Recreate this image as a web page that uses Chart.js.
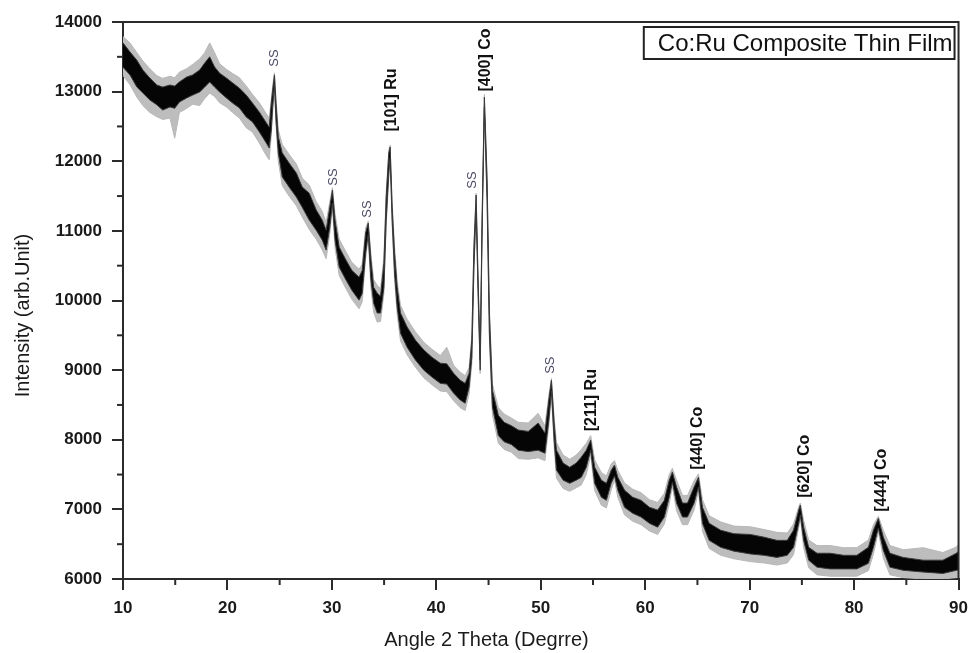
<!DOCTYPE html>
<html>
<head>
<meta charset="utf-8">
<script src="https://cdn.jsdelivr.net/npm/chart.js@4.4.1/dist/chart.umd.min.js"></script>
<style>
  html, body { margin: 0; padding: 0; background: #ffffff; }
  #wrap { width: 976px; height: 653px; position: relative; }
</style>
</head>
<body>
<div id="wrap"><canvas id="c" width="976" height="653"></canvas></div>
<script>
// ---- Data ----
const angles = [10.0,10.67,11.33,11.9,12.57,13.24,13.8,14.5,14.95,15.4,16.1,16.67,17.34,17.82,18.3,18.77,19.25,19.9,20.5,21.15,21.8,22.4,23.06,23.73,24.0,24.2,24.33,24.5,24.65,24.87,25.25,25.9,26.6,27.16,27.83,28.5,29.07,29.45,29.8,30.05,30.3,30.7,31.35,31.9,32.6,32.9,33.23,33.48,33.74,34.0,34.34,34.66,34.98,35.2,35.45,35.58,35.77,36.0,36.25,36.57,37.2,38.0,38.8,39.58,40.38,41.0,41.65,42.29,42.76,43.14,43.4,43.6,43.81,44.0,44.2,44.38,44.6,44.86,45.08,45.37,45.94,46.5,47.2,47.85,48.8,49.75,50.4,50.77,51.02,51.28,51.5,52.14,52.77,53.4,53.88,54.36,54.78,55.16,55.8,56.28,56.74,57.06,57.38,58.02,58.8,59.6,60.4,61.19,61.83,62.3,62.6,63.0,63.57,64.05,64.68,65.1,65.48,66.12,67.23,68.5,70.06,71.4,72.6,73.6,74.2,74.7,74.85,75.17,75.65,76.45,77.7,79.0,80.26,81.37,81.85,82.32,82.8,83.43,84.7,86.6,88.5,89.8,90.0];

const intensityHigh = [13700,13570,13450,13310,13195,13095,13065,13095,13080,13140,13210,13240,13310,13410,13500,13355,13265,13195,13125,13050,12950,12835,12705,12550,12490,12835,13020,13240,12835,12350,12120,11975,11830,11630,11540,11300,11155,11010,11340,11585,11155,10765,10580,10435,10335,10430,10970,11110,10580,10190,10105,10060,10535,11485,12120,12205,11340,10680,10190,9820,9620,9430,9290,9185,9100,9090,8955,8855,8810,8955,9430,10765,11515,10290,9145,11155,12920,11730,9820,8710,8350,8250,8200,8140,8120,8240,8095,8570,8855,8240,7850,7665,7605,7665,7750,7850,7995,7605,7420,7375,7560,7635,7460,7275,7175,7130,7030,6990,7130,7420,7535,7320,7090,7090,7320,7460,7030,6800,6700,6650,6640,6600,6555,6555,6700,6990,7060,6745,6455,6370,6370,6340,6340,6455,6700,6870,6600,6370,6310,6270,6270,6370,6400];

const intensityLow = [13350,13240,13065,12980,12880,12810,12735,12780,12760,12850,12910,12950,12995,13065,13140,13065,12995,12910,12835,12765,12635,12565,12420,12260,12190,12450,12780,13100,12590,12120,11775,11630,11485,11340,11155,11010,10870,10725,11055,11400,10870,10480,10295,10150,10005,10100,10680,10950,10295,9960,9820,9820,10190,11155,11830,12050,11155,10395,9905,9530,9330,9145,9000,8900,8810,8800,8670,8570,8525,8755,9185,10480,11350,10105,9000,10970,12780,11440,9530,8470,8060,7970,7930,7850,7830,7850,7807,8280,8700,7995,7565,7420,7375,7420,7460,7605,7850,7375,7175,7130,7375,7480,7275,7030,6945,6890,6800,6745,6890,7175,7390,7090,6890,6890,7090,7320,6800,6555,6455,6400,6360,6340,6310,6340,6455,6800,6920,6555,6270,6170,6145,6145,6145,6225,6455,6730,6410,6170,6125,6100,6080,6125,6130];

const fuzzHigh = [13790,13700,13560,13440,13330,13230,13190,13220,13200,13280,13330,13390,13470,13560,13700,13560,13400,13320,13260,13200,13080,12960,12840,12680,12620,12900,13080,13270,12900,12450,12240,12100,11960,11760,11660,11420,11280,11120,11420,11620,11250,10880,10700,10550,10450,10520,11040,11140,10670,10300,10220,10170,10620,11560,12160,12230,11420,10770,10290,9930,9730,9550,9400,9300,9210,9330,9070,8970,8920,9040,9500,10820,11540,10350,9200,11210,12960,11800,9890,8800,8460,8370,8310,8250,8240,8380,8200,8640,8880,8320,7960,7780,7720,7780,7860,7950,8060,7710,7530,7480,7650,7700,7560,7380,7290,7240,7140,7100,7230,7500,7590,7420,7200,7200,7410,7510,7140,6910,6820,6760,6750,6710,6670,6660,6790,7040,7090,6840,6560,6480,6480,6450,6450,6560,6780,6900,6700,6480,6420,6450,6380,6460,6500];

const fuzzLow = [13230,13100,12920,12800,12700,12640,12600,12620,12330,12700,12760,12820,12800,12900,12980,12930,12840,12780,12700,12620,12480,12420,12260,12080,12020,12380,12700,13050,12520,12000,11650,11500,11360,11200,11020,10880,10730,10600,10960,11340,10760,10360,10170,10020,9880,9980,10600,10900,10180,9830,9690,9700,10100,11080,11760,12000,11080,10300,9800,9420,9220,9040,8890,8790,8700,8690,8560,8460,8420,8660,9100,10420,11300,10040,8950,10920,12740,11380,9460,8360,7950,7860,7820,7730,7720,7740,7700,8200,8660,7900,7450,7300,7260,7310,7350,7500,7780,7270,7060,7020,7280,7420,7170,6920,6830,6780,6690,6640,6790,7080,7330,6980,6780,6780,6990,7260,6690,6440,6340,6290,6250,6230,6200,6230,6350,6740,6880,6450,6160,6060,6040,6040,6040,6120,6360,6680,6300,6060,6020,6000,6000,6020,6030];

// Peak annotations
const ssAngles      = [24.49, 30.11, 33.45, 43.46, 50.9];
const ssIntensity   = [13483, 11773, 11313, 11730, 9071];
const ssText        = ["SS", "SS", "SS", "SS", "SS"];
const peakAngles    = [35.74, 44.7, 54.9, 65.0, 75.3, 82.64];
const peakIntensity = [12879, 13454, 8568, 8022, 7620, 7419];
const peakText      = ["[101] Ru", "[400] Co", "[211] Ru", "[440] Co", "[620] Co", "[444] Co"];

const xTicks = [10, 20, 30, 40, 50, 60, 70, 80, 90];
const yTicks = [6000, 7000, 8000, 9000, 10000, 11000, 12000, 13000, 14000];

const legendText = "Co:Ru Composite Thin Film";
const xTitle = "Angle 2 Theta (Degrre)";
const yTitle = "Intensity (arb.Unit)";

// ---- Build chart ----
const FONT = "'Liberation Sans', Arial, Helvetica, sans-serif";
const AX = '#2b2b2b';
function pts(arr) { return angles.map((a, i) => ({ x: a, y: arr[i] })); }

const overlay = {
  id: 'overlay',
  afterDraw(chart) {
    const ctx = chart.ctx, ca = chart.chartArea;
    const xs = chart.scales.x, ys = chart.scales.y;
    ctx.save();
    // frame top & right
    ctx.strokeStyle = AX; ctx.lineWidth = 2;
    ctx.beginPath();
    ctx.moveTo(ca.left, ca.top); ctx.lineTo(ca.right, ca.top); ctx.lineTo(ca.right, ca.bottom);
    ctx.stroke();
    // minor ticks
    ctx.lineWidth = 2;
    for (let i = 0; i < xTicks.length - 1; i++) {
      const px = xs.getPixelForValue((xTicks[i] + xTicks[i + 1]) / 2);
      ctx.beginPath(); ctx.moveTo(px, ca.bottom); ctx.lineTo(px, ca.bottom + 6); ctx.stroke();
    }
    for (let i = 0; i < yTicks.length - 1; i++) {
      const py = ys.getPixelForValue((yTicks[i] + yTicks[i + 1]) / 2);
      ctx.beginPath(); ctx.moveTo(ca.left, py); ctx.lineTo(ca.left - 6, py); ctx.stroke();
    }
    // SS labels
    ctx.fillStyle = '#4a4a66';
    ctx.font = '13px ' + FONT;
    ctx.textAlign = 'center'; ctx.textBaseline = 'middle';
    ssAngles.forEach((a, i) => {
      ctx.save();
      ctx.translate(xs.getPixelForValue(a), ys.getPixelForValue(ssIntensity[i]));
      ctx.rotate(-Math.PI / 2);
      ctx.fillText(ssText[i], 0, 0);
      ctx.restore();
    });
    // peak labels
    ctx.fillStyle = '#111';
    ctx.font = 'bold 16px ' + FONT;
    peakAngles.forEach((a, i) => {
      ctx.save();
      ctx.translate(xs.getPixelForValue(a), ys.getPixelForValue(peakIntensity[i]));
      ctx.rotate(-Math.PI / 2);
      ctx.fillText(peakText[i], 0, 0);
      ctx.restore();
    });
    // legend box
    ctx.font = '24px ' + FONT;
    const tw = ctx.measureText(legendText).width;
    const bx1 = ca.right - 4, bx0 = bx1 - tw - 16, by0 = ca.top + 5, bh = 32;
    ctx.fillStyle = '#fff';
    ctx.fillRect(bx0, by0, bx1 - bx0, bh);
    ctx.strokeStyle = '#222'; ctx.lineWidth = 2;
    ctx.strokeRect(bx0, by0, bx1 - bx0, bh);
    ctx.fillStyle = '#111';
    ctx.textAlign = 'left'; ctx.textBaseline = 'middle';
    ctx.fillText(legendText, bx0 + 14, by0 + bh / 2 + 1);
    // axis titles
    ctx.font = '20px ' + FONT;
    ctx.textAlign = 'center'; ctx.textBaseline = 'middle';
    ctx.fillStyle = '#1a1a1a';
    ctx.fillText(xTitle, ca.left + (ca.right - ca.left) * 0.435, ca.bottom + 61);
    ctx.save();
    ctx.translate(ca.left - 100, (ca.top + ca.bottom) / 2 + 15);
    ctx.rotate(-Math.PI / 2);
    ctx.fillText(yTitle, 0, 0);
    ctx.restore();
    ctx.restore();
  }
};

new Chart(document.getElementById('c'), {
  type: 'line',
  data: {
    datasets: [
      { label: 'band-low', data: pts(intensityLow), borderColor: '#3a3a3a', borderWidth: 1, backgroundColor: '#000', pointRadius: 0, fill: false, order: 0 },
      { label: legendText, data: pts(intensityHigh), borderColor: '#3a3a3a', borderWidth: 1, backgroundColor: '#050505', pointRadius: 0, fill: '-1', order: 0 },
      { label: 'fuzz-low', data: pts(fuzzLow), borderColor: '#b8b8b8', borderWidth: 1, backgroundColor: '#bdbdbd', pointRadius: 0, fill: false, order: 1 },
      { label: 'fuzz-high', data: pts(fuzzHigh), borderColor: '#b8b8b8', borderWidth: 1, backgroundColor: '#bdbdbd', pointRadius: 0, fill: '-1', order: 1 }
    ]
  },
  options: {
    responsive: false,
    animation: false,
    layout: { padding: { top: 22, right: 14, left: 0, bottom: 0 } },
    plugins: { legend: { display: false }, tooltip: { enabled: false } },
    elements: { line: { tension: 0 } },
    scales: {
      x: {
        type: 'linear', min: 10, max: 90,
        afterFit(s) { s.height = 74; },
        afterBuildTicks(s) { s.ticks = xTicks.map(v => ({ value: v })); },
        ticks: { color: '#1a1a1a', font: { family: FONT, size: 17, weight: 'bold' }, padding: 8, maxRotation: 0, autoSkip: false, callback: v => String(v) },
        grid: { drawOnChartArea: false, drawTicks: true, tickLength: 11, color: AX, lineWidth: 2 },
        border: { display: true, color: AX, width: 2 }
      },
      y: {
        type: 'linear', min: 6000, max: 14000,
        afterFit(s) { s.width = 123; },
        afterBuildTicks(s) { s.ticks = yTicks.map(v => ({ value: v })); },
        ticks: { color: '#1a1a1a', font: { family: FONT, size: 17, weight: 'bold' }, padding: 10, autoSkip: false, callback: v => String(v) },
        grid: { drawOnChartArea: false, drawTicks: true, tickLength: 11, color: AX, lineWidth: 2 },
        border: { display: true, color: AX, width: 2 }
      }
    }
  },
  plugins: [overlay]
});
</script>
</body>
</html>
